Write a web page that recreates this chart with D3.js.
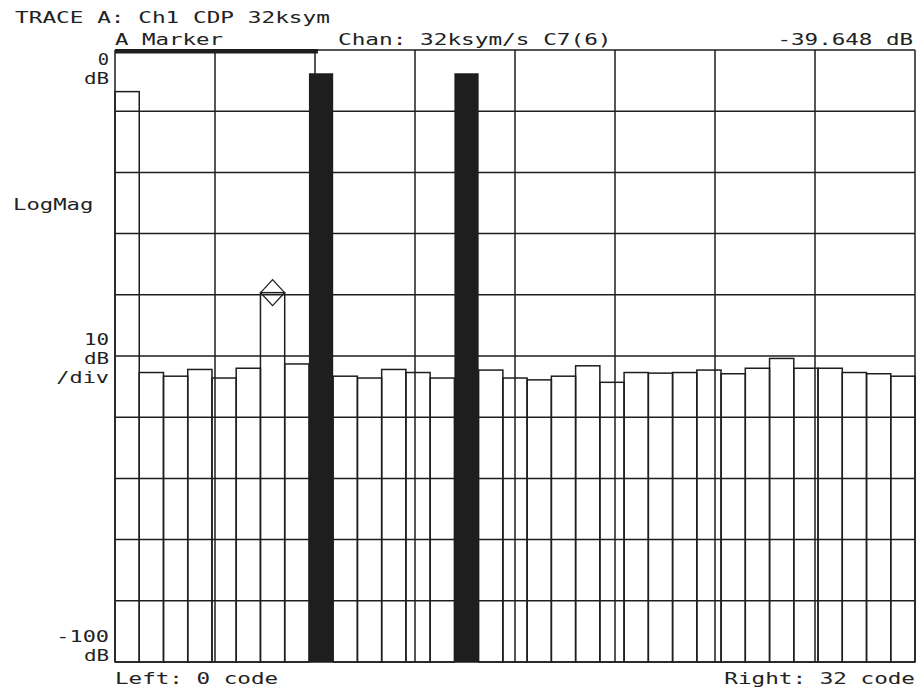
<!DOCTYPE html>
<html>
<head>
<meta charset="utf-8">
<script src="https://cdn.jsdelivr.net/npm/d3@7"></script>
<style>
  html, body { margin: 0; padding: 0; background: #fff; }
  svg text { font-family: "DejaVu Sans Mono", monospace; fill: #222; }
</style>
</head>
<body>
<svg id="chart" width="920" height="691"></svg>
<script>
// ---- data ----
const codes = d3.range(0, 33); // 0..32 code
const powerDb = [
  -6.8, -52.7, -53.3, -52.2, -53.6, -52.0, -39.648, -51.3,
  -3.8, -53.3, -53.6, -52.2, -52.7, -53.6, -3.8, -52.3,
  -53.6, -53.9, -53.3, -51.6, -54.3, -52.7, -52.8, -52.7,
  -52.3, -52.9, -52.0, -50.4, -52.0, -52.0, -52.7, -52.9, -53.3
];
const activeCodes = [8, 14];
const markerCode = 6;
const yTicks = d3.range(-100, 1, 10);
const xDivisions = d3.range(0, 9);
const markerSpanCodes = [0, 8.37];
const titleLine = "TRACE A: Ch1 CDP 32ksym";
const headerLeft = "A Marker";
const headerMid = "Chan: 32ksym/s C7(6)";
const headerRight = "-39.648 dB";
const footerLeft = "Left: 0 code";
const footerRight = "Right: 32 code";
const yLabelTop = ["0", "dB"];
const yLabelMid = ["10", "dB", "/div"];
const yLabelBot = ["-100", "dB"];
const yAxisName = "LogMag";

// ---- layout ----
const L = 115, R = 915, T = 50, B = 662;
const ink = "#1e1e1e";
const svg = d3.select("#chart");

const x = d3.scaleBand().domain(codes).range([L, R]).padding(0);
const xc = d3.scaleLinear().domain([0, codes.length]).range([L, R]);
const xd = d3.scaleLinear().domain([0, 8]).range([L, R]);
const y = d3.scaleLinear().domain([-100, 0]).range([B, T]);

// grid
const grid = svg.append("g");
grid.selectAll("line.h").data(yTicks).join("line")
  .attr("x1", L).attr("x2", R)
  .attr("y1", d => y(d)).attr("y2", d => y(d))
  .attr("stroke", ink).attr("stroke-width", 1.5);
grid.selectAll("line.v").data(xDivisions).join("line")
  .attr("x1", d => xd(d)).attr("x2", d => xd(d))
  .attr("y1", T).attr("y2", B)
  .attr("stroke", ink).attr("stroke-width", 1.5);

// bars
const data = codes.map((c, i) => ({ code: c, v: powerDb[i], active: activeCodes.includes(c) }));
svg.append("g").selectAll("rect").data(data.filter(d => !d.active)).join("rect")
  .attr("x", d => x(d.code))
  .attr("y", d => y(d.v))
  .attr("width", x.bandwidth())
  .attr("height", d => B - y(d.v))
  .attr("fill", "none")
  .attr("stroke", ink).attr("stroke-width", 1.5);
svg.append("g").selectAll("rect").data(data.filter(d => d.active)).join("rect")
  .attr("x", d => x(d.code))
  .attr("y", d => y(d.v))
  .attr("width", x.bandwidth())
  .attr("height", d => B - y(d.v))
  .attr("fill", ink);

// thick top span
svg.append("rect")
  .attr("x", xc(markerSpanCodes[0]))
  .attr("y", T - 1)
  .attr("width", xc(markerSpanCodes[1]) - xc(markerSpanCodes[0]))
  .attr("height", 4.5)
  .attr("fill", ink);

// marker diamond
const mx = x(markerCode) + x.bandwidth() / 2, my = y(powerDb[markerCode]);
svg.append("path")
  .attr("d", `M${mx},${my - 13} L${mx + 12},${my} L${mx},${my + 13} L${mx - 12},${my} Z`)
  .attr("fill", "none").attr("stroke", ink).attr("stroke-width", 1.3);

// text helper
const CW = 13.8;
function txt(s, xx, yy, anchor) {
  const t = svg.append("text")
    .attr("y", yy)
    .attr("font-size", 16)
    .attr("textLength", s.length * CW - 2.5)
    .attr("lengthAdjust", "spacingAndGlyphs")
    .text(s);
  if (anchor === "end") t.attr("x", xx - (s.length * CW - 2.5));
  else t.attr("x", xx);
  return t;
}

txt(titleLine, 15, 23);
txt(headerLeft, 115, 45);
txt(headerMid, 338, 45);
txt(headerRight, 913, 45, "end");
txt(footerLeft, 115, 684);
txt(footerRight, 915, 684, "end");
txt(yAxisName, 13, 210);

yLabelTop.forEach((s, i) => txt(s, 109, 65 + i * 19, "end"));
yLabelMid.forEach((s, i) => txt(s, 109, 345 + i * 19, "end"));
yLabelBot.forEach((s, i) => txt(s, 109, 642 + i * 19, "end"));
</script>
</body>
</html>
